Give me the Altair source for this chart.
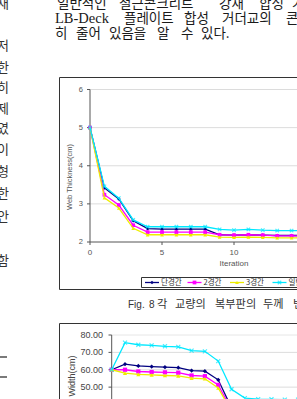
import altair as alt
import pandas as pd

# ---------------- data ----------------
iterations = list(range(17))
series_names = ["단경간", "2경간", "3경간", "일반교"]
series_colors = ["#000080", "#ff00ff", "#eded00", "#00e8ff"]
series_shapes = ["diamond", "square", "triangle-up", "M-1,-1L1,1M-1,1L1,-1"]

web_navy = [5.0, 3.42, 3.13, 2.56, 2.35, 2.34, 2.34, 2.34, 2.34, 2.19, 2.18, 2.19, 2.18, 2.17, 2.17, 2.17, 2.17]
web_magenta = [5.0, 3.24, 2.97, 2.44, 2.26, 2.26, 2.26, 2.26, 2.26, 2.19, 2.18, 2.19, 2.18, 2.16, 2.16, 2.16, 2.16]
web_yellow = [5.0, 3.16, 2.89, 2.36, 2.19, 2.19, 2.19, 2.19, 2.19, 2.13, 2.12, 2.13, 2.12, 2.11, 2.11, 2.11, 2.11]
web_cyan = [5.0, 3.46, 3.15, 2.58, 2.40, 2.40, 2.40, 2.40, 2.40, 2.33, 2.31, 2.33, 2.31, 2.30, 2.30, 2.30, 2.30]

wid_navy = [60, 63.2, 62.2, 61.8, 61.5, 61.2, 59.5, 59.2, 54.2, 38, 34, 33, 33, 33, 33, 33, 33]
wid_magenta = [60, 60.0, 59.0, 58.7, 58.5, 58.3, 56.7, 56.3, 51.3, 37, 33, 32, 32, 32, 32, 32, 32]
wid_yellow = [60, 58.0, 57.3, 57.0, 56.7, 56.5, 55.2, 54.8, 49.5, 36, 32, 31, 31, 31, 31, 31, 31]
wid_cyan = [60, 75.6, 74.4, 74.0, 73.5, 73.2, 71.0, 70.6, 65.0, 48.8, 43.7, 43.1, 43.0, 42.8, 42.8, 42.8, 42.8]

web_series = [web_navy, web_magenta, web_yellow, web_cyan]
wid_series = [wid_navy, wid_magenta, wid_yellow, wid_cyan]

top_y_ticks = [2, 3, 4, 5, 6]
top_x_ticks = [0, 5, 10, 15, 20]
bot_y_ticks = [0, 10, 20, 30, 40, 50, 60, 70, 80]

body_lines = ["일반적인 철근콘크리트 강재 합성 거더교의",
              "LB-Deck 플레이트 합성 거더교의 콘크리트",
              "히 줄어 있음을 알 수 있다."]
left_chars = ["재", "저", "한", "히", "제", "였", "이", "형", "한", "안", "함"]

caption = "Fig. 8 각 교량의 복부판의 두께 변화"
top_y_title = "Web Thickness(cm)"
top_x_title = "Iteration"
bot_y_title = "Width(cm)"

KFONT = "Noto Sans CJK KR"
SFONT = "Liberation Sans"
RFONT = "Liberation Serif"

one = pd.DataFrame({"a": [0]})

xs_top = alt.Scale(domain=[0, 20], range=[90, 378], nice=False, zero=False)
ys_top = alt.Scale(domain=[2, 6], range=[242, 89.5], nice=False, zero=False)
xs_bot = alt.Scale(domain=[0, 20], range=[111.7, 378], nice=False, zero=False)
ys_bot = alt.Scale(domain=[0, 80], range=[474, 335], nice=False, zero=False)


def txt(text, x, y, size, color="#222", align="left", font=KFONT, angle=0):
    return alt.Chart(pd.DataFrame({"t": [text]})).mark_text(
        align=align, baseline="middle", fontSize=size, font=font, color=color, angle=angle
    ).encode(x=alt.value(x), y=alt.value(y), text="t:N")


layers = []

# frames
layers.append(alt.Chart(one).mark_rect(fill="white", stroke="#333", strokeWidth=1).encode(
    x=alt.value(59.5), x2=alt.value(420), y=alt.value(77.5), y2=alt.value(289.5)))
layers.append(alt.Chart(one).mark_rect(fill="white", stroke="#333", strokeWidth=1).encode(
    x=alt.value(59.5), x2=alt.value(420), y=alt.value(323.5), y2=alt.value(520)))

# body text, word by word (justified in the source)
word_x = [[57, 119, 219, 259, 292],
          [55, 124, 184, 222, 286],
          [55, 76, 109, 157, 181, 201]]
for i, line in enumerate(body_lines):
    for w, xx in zip(line.split(" "), word_x[i]):
        is_latin = all(ord(c) < 128 for c in w.replace(".", ""))
        if is_latin:
            layers.append(txt(w, xx, 4 + 15 * i, 14.5, color="#1a1a1a", font=RFONT))
        else:
            layers.append(txt(w, xx, 4 + 15 * i, 13.5, color="#1a1a1a"))

left_y = [4, 46, 68, 88, 109, 129, 150, 172, 194, 217, 261]
for ch, yy in zip(left_chars, left_y):
    layers.append(txt(ch, 9, yy, 13, color="#333", align="right"))
for yy in [357, 377]:
    layers.append(alt.Chart(one).mark_rule(color="#222", strokeWidth=1.2).encode(
        x=alt.value(0), x2=alt.value(7), y=alt.value(yy)))

# ---------- top chart ----------
tdf_y = pd.DataFrame({"v": top_y_ticks})
tdf_x = pd.DataFrame({"v": top_x_ticks})
layers.append(alt.Chart(pd.DataFrame({"v": top_y_ticks[1:]})).mark_rule(color="#dcdcdc", strokeWidth=1).encode(
    y=alt.Y("v:Q", scale=ys_top, axis=None), x=alt.value(90), x2=alt.value(378)))
layers.append(alt.Chart(one).mark_rule(color="#555", strokeWidth=1).encode(
    y=alt.Y(datum=2, scale=ys_top, axis=None), x=alt.value(90), x2=alt.value(378)))
layers.append(alt.Chart(one).mark_rule(color="#555", strokeWidth=1).encode(
    x=alt.value(90), y=alt.Y(datum=6, scale=ys_top, axis=None), y2=alt.Y2(datum=2)))
layers.append(alt.Chart(tdf_y).mark_rule(color="#555").encode(
    y=alt.Y("v:Q", scale=ys_top, axis=None), x=alt.value(87), x2=alt.value(90)))
layers.append(alt.Chart(tdf_x).mark_rule(color="#555").encode(
    x=alt.X("v:Q", scale=xs_top, axis=None), y=alt.value(242), y2=alt.value(245)))
layers.append(alt.Chart(tdf_y).mark_text(align="right", baseline="middle", fontSize=7.5, font=SFONT, color="#555").encode(
    y=alt.Y("v:Q", scale=ys_top, axis=None), x=alt.value(83), text="v:Q"))
layers.append(alt.Chart(tdf_x).mark_text(align="center", baseline="middle", fontSize=8, font=SFONT, color="#555").encode(
    x=alt.X("v:Q", scale=xs_top, axis=None), y=alt.value(253), text="v:Q"))
layers.append(txt(top_x_title, 234, 264, 8, color="#555", align="center", font=SFONT))
layers.append(txt(top_y_title, 70, 177, 7.5, color="#555", align="center", font=SFONT, angle=270))

for name, col, shp, vals in zip(series_names, series_colors, series_shapes, web_series):
    df = pd.DataFrame({"it": iterations, "v": vals})
    base = alt.Chart(df).encode(x=alt.X("it:Q", scale=xs_top, axis=None),
                                y=alt.Y("v:Q", scale=ys_top, axis=None))
    layers.append(base.mark_line(color=col, strokeWidth=1.3))
    if shp.startswith("M"):
        layers.append(base.mark_point(shape=shp, filled=False, color=col, size=12, strokeWidth=1.2))
    else:
        layers.append(base.mark_point(shape=shp, filled=True, color=col, size=14, opacity=1))

# legend
layers.append(alt.Chart(one).mark_rect(fill="white", stroke="#333", strokeWidth=1).encode(
    x=alt.value(141.5), x2=alt.value(420), y=alt.value(277.5), y2=alt.value(287.5)))
for i, (name, col, shp) in enumerate(zip(series_names, series_colors, series_shapes)):
    x0 = 145 + 42.5 * i
    layers.append(alt.Chart(one).mark_rule(color=col, strokeWidth=1.3).encode(
        x=alt.value(x0), x2=alt.value(x0 + 14), y=alt.value(282.5)))
    if shp.startswith("M"):
        layers.append(alt.Chart(one).mark_point(shape=shp, filled=False, color=col, size=12, strokeWidth=1.2).encode(
            x=alt.value(x0 + 7), y=alt.value(282.5)))
    else:
        layers.append(alt.Chart(one).mark_point(shape=shp, filled=True, color=col, size=14, opacity=1).encode(
            x=alt.value(x0 + 7), y=alt.value(282.5)))
    layers.append(txt(name, x0 + 16, 282.5, 7.5, color="#333"))

# caption, word by word
cap_x = [128, 149, 157, 175, 215, 263, 293]
for w, xx in zip(caption.split(" "), cap_x):
    if all(ord(c) < 128 for c in w):
        layers.append(txt(w, xx, 305, 10, color="#333", font=SFONT))
    else:
        layers.append(txt(w, xx, 305, 11.2, color="#333"))

# ---------- bottom chart ----------
layers.append(alt.Chart(pd.DataFrame({"v": bot_y_ticks[:-1]})).mark_rule(color="#dcdcdc", strokeWidth=1).encode(
    y=alt.Y("v:Q", scale=ys_bot, axis=None), x=alt.value(111.7), x2=alt.value(378)))
layers.append(alt.Chart(one).mark_rule(color="#e6e6e6", strokeWidth=1).encode(
    y=alt.Y(datum=80, scale=ys_bot, axis=None), x=alt.value(111.7), x2=alt.value(378)))
layers.append(alt.Chart(one).mark_rule(color="#555", strokeWidth=1).encode(
    x=alt.value(111.7), y=alt.Y(datum=80, scale=ys_bot, axis=None), y2=alt.Y2(datum=0)))
bdf_y = pd.DataFrame({"v": bot_y_ticks})
layers.append(alt.Chart(bdf_y).mark_rule(color="#555").encode(
    y=alt.Y("v:Q", scale=ys_bot, axis=None), x=alt.value(108.5), x2=alt.value(111.7)))
layers.append(alt.Chart(bdf_y).mark_text(align="right", baseline="middle", fontSize=9, font=SFONT, color="#444").encode(
    y=alt.Y("v:Q", scale=ys_bot, axis=None), x=alt.value(103), text=alt.Text("v:Q", format=".2f")))
layers.append(txt(bot_y_title, 72, 376, 9, color="#444", align="center", font=SFONT, angle=270))

for name, col, shp, vals in zip(series_names, series_colors, series_shapes, wid_series):
    df = pd.DataFrame({"it": iterations, "v": vals})
    base = alt.Chart(df).encode(x=alt.X("it:Q", scale=xs_bot, axis=None),
                                y=alt.Y("v:Q", scale=ys_bot, axis=None))
    layers.append(base.mark_line(color=col, strokeWidth=1.3))
    if shp.startswith("M"):
        layers.append(base.mark_point(shape=shp, filled=False, color=col, size=16, strokeWidth=1.2))
    else:
        layers.append(base.mark_point(shape=shp, filled=True, color=col, size=18, opacity=1))

chart = alt.layer(*layers).resolve_scale(x="independent", y="independent").properties(
    width=297, height=399, autosize=alt.AutoSizeParams(type="none"), padding=0, background="white"
).configure_view(strokeWidth=0)

chart.save("out.html", embed_options={"renderer": "svg", "actions": False})
